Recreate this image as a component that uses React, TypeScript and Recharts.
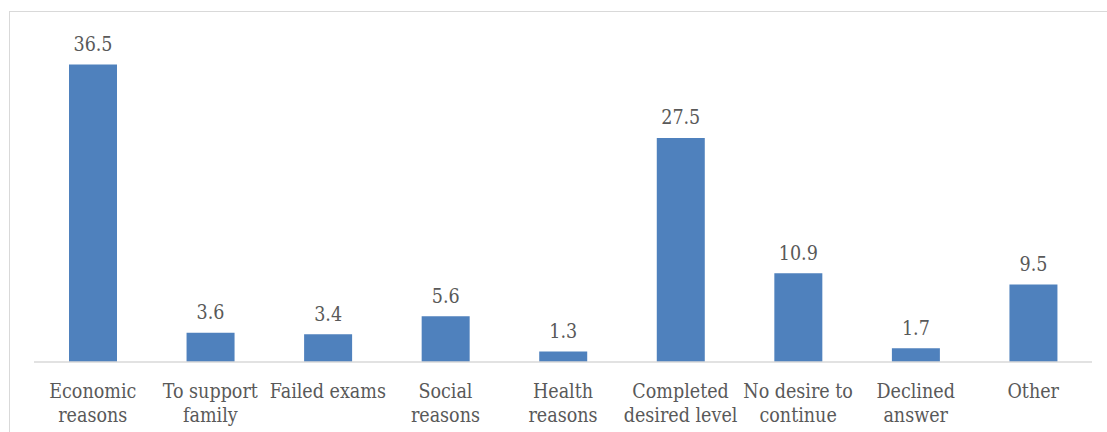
import React from "react";
import { BarChart, Bar, XAxis, YAxis, LabelList } from "recharts";

const categories: string[][] = [
  ["Economic", "reasons"],
  ["To support", "family"],
  ["Failed exams"],
  ["Social", "reasons"],
  ["Health", "reasons"],
  ["Completed", "desired level"],
  ["No desire to", "continue"],
  ["Declined", "answer"],
  ["Other"],
];
const values: number[] = [36.5, 3.6, 3.4, 5.6, 1.3, 27.5, 10.9, 1.7, 9.5];
const yTicks: number[] = [0, 40];

const data = categories.map((c, i) => ({ name: c.join(" "), lines: c, value: values[i] }));

const FONT = "'DejaVu Serif Condensed', 'DejaVu Serif', serif";
const TEXT = "#595959";

const Tick = (props: any) => {
  const { x, y, index } = props;
  const lines = categories[index] || [];
  return (
    <g>
      {lines.map((l, i) => (
        <text
          key={i}
          x={x}
          y={y + 28 + i * 24}
          textAnchor="middle"
          fill={TEXT}
          fontFamily={FONT}
          fontSize={19.5}
          style={{ fontStretch: "condensed" }}
        >
          {l}
        </text>
      ))}
    </g>
  );
};

const ValueLabel = (props: any) => {
  const { x, y, width, value } = props;
  return (
    <text
      x={x + width / 2}
      y={y - 13.5}
      textAnchor="middle"
      fill={TEXT}
      fontFamily={FONT}
      fontSize={19.5}
      style={{ fontStretch: "condensed" }}
    >
      {value}
    </text>
  );
};

export default function App() {
  return (
    <div style={{ position: "absolute", left: 0, top: 0, width: 1107, height: 432, overflow: "hidden", background: "#fff" }}>
      <div
        style={{
          position: "absolute",
          left: 9,
          top: 11,
          width: 1120,
          height: 450,
          border: "1px solid #D9D9D9",
          boxSizing: "border-box",
        }}
      />
      <div style={{ position: "absolute", left: 0, top: 0 }}>
        <BarChart
          width={1107}
          height={432}
          data={data}
          margin={{ top: 36, right: 15, left: 34, bottom: 0 }}
          barSize={48}
        >
          <XAxis
            dataKey="name"
            height={70}
            axisLine={{ stroke: "#D9D9D9", strokeWidth: 1.5 }}
            tickLine={false}
            interval={0}
            tick={<Tick />}
          />
          <YAxis hide domain={[yTicks[0], yTicks[1]]} ticks={yTicks} />
          <Bar dataKey="value" fill="#4F81BD" isAnimationActive={false}>
            <LabelList dataKey="value" content={<ValueLabel />} />
          </Bar>
        </BarChart>
      </div>
    </div>
  );
}
